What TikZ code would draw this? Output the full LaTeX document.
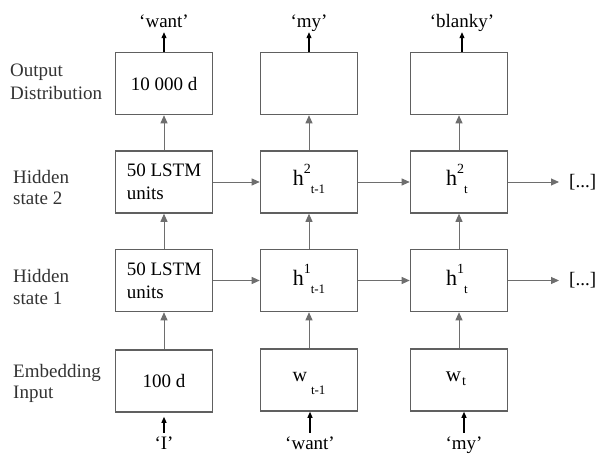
\documentclass[tikz,border=0pt]{standalone}
\usepackage{fontspec}
\setmainfont{Liberation Serif}
\usetikzlibrary{arrows.meta}
\definecolor{boxgray}{HTML}{606060}
\definecolor{arrgray}{HTML}{6E6E6E}
\definecolor{txtgray}{HTML}{333333}
% #1 base drop, #2 superscript, #3 subscript
\newcommand{\myhlab}[3]{\raisebox{-#1}{\smash{\fontsize{22}{22}\selectfont h\raisebox{12pt}{\fontsize{14}{14}\selectfont #2}\raisebox{-8pt}{\fontsize{13}{13}\selectfont #3}}}}
\tikzset{
 cell/.style={draw=boxgray, line width=1.6pt, minimum width=97pt, minimum height=62pt, inner sep=0pt, font=\fontsize{19}{23}\selectfont, text=black, align=left},
 flow/.style={draw=arrgray, line width=0.9pt, -{Triangle[length=8pt,width=7pt]}},
 io/.style={draw=black, line width=1.1pt, -{Triangle[length=6pt,width=5pt]}},
 side/.style={anchor=base west, font=\fontsize{19}{23}\selectfont, text=txtgray, inner sep=0pt},
 word/.style={font=\fontsize{19}{23}\selectfont, inner sep=0pt, text height=14pt, text depth=5pt, anchor=base, text=black},
}
\begin{document}
\begin{tikzpicture}[x=1pt,y=-1pt]
\useasboundingbox[fill=white] (0,0) rectangle (597,453);
% side labels
\node[side] (l1a) at (10,76) {Output};
\node[side] (l1b) at (10,99) {Distribution};
\node[side] (l2a) at (13,183) {Hidden};
\node[side] (l2b) at (13,204) {state 2};
\node[side] (l3a) at (13,282) {Hidden};
\node[side] (l3b) at (13,304) {state 1};
\node[side] (l4a) at (13,377) {Embedding};
\node[side] (l4b) at (13,398) {Input};
% boxes
\node[cell] (o1) at (164,83.5) {10 000 d};
\node[cell] (o2) at (309,83.5) {};
\node[cell] (o3) at (459,83.5) {};
\node[cell] (a1) at (164,182) {50 LSTM\\units};
\node[cell] (a2) at (309,182) {\myhlab{7pt}{2}{t-1}};
\node[cell] (a3) at (459,182) {\hspace{-4pt}\myhlab{7pt}{2}{t}};
\node[cell] (b1) at (164,280.5) {50 LSTM\\units};
\node[cell] (b2) at (309,280.5) {\myhlab{9pt}{1}{t-1}};
\node[cell] (b3) at (459,280.5) {\hspace{-4pt}\myhlab{9pt}{1}{t}};
\node[cell] (e1) at (164,381) {100 d};
\node[cell] (e2) at (309,380) {\raisebox{-3pt}{\smash{\fontsize{20}{20}\selectfont w\hspace{4pt}\raisebox{-13pt}{\fontsize{13}{13}\selectfont t-1}}}};
\node[cell] (e3) at (459,380) {\hspace{-6pt}\raisebox{-3pt}{\smash{\fontsize{21}{21}\selectfont w\hspace{1pt}\raisebox{-4pt}{\fontsize{14}{14}\selectfont t}}}};
% words
\node[word] (t1) at (164,27) {‘want’};
\node[word] (t2) at (309,27) {‘my’};
\node[word] (t3) at (462,27) {‘blanky’};
\node[word] (w1) at (164,449) {‘I’};
\node[word] (w2) at (310,449) {‘want’};
\node[word] (w3) at (464,449) {‘my’};
\node[anchor=west, inner sep=0pt, font=\fontsize{19}{23}\selectfont] (d2) at (569,182) {[...]};
\node[anchor=west, inner sep=0pt, font=\fontsize{19}{23}\selectfont] (d1) at (569,280.5) {[...]};
% io arrows
\draw[io] (o1.north) -- (t1.south);
\draw[io] (o2.north) -- (t2.south);
\draw[io] ([xshift=3pt]o3.north) -- ([xshift=3pt]o3.north |- t3.south);
\draw[io, shorten <=2pt, shorten >=4pt] (w1.north) -- (e1.south);
\draw[io, shorten <=2pt] (w2.north) -- (w2.north |- e2.south);
\draw[io, shorten <=2pt] (w3.north) -- (w3.north |- e3.south);
% vertical flow
\foreach \c in {1,2,3}{
  \draw[flow] (e\c.north) -- (b\c.south);
  \draw[flow] (b\c.north) -- (a\c.south);
  \draw[flow] (a\c.north) -- (o\c.south);
}
% horizontal flow
\draw[flow] (a1.east) -- (a2.west);
\draw[flow] (a2.east) -- (a3.west);
\draw[flow, shorten >=10pt] (a3.east) -- (d2.west);
\draw[flow] (b1.east) -- (b2.west);
\draw[flow] (b2.east) -- (b3.west);
\draw[flow, shorten >=10pt] (b3.east) -- (d1.west);
\end{tikzpicture}
\end{document}
